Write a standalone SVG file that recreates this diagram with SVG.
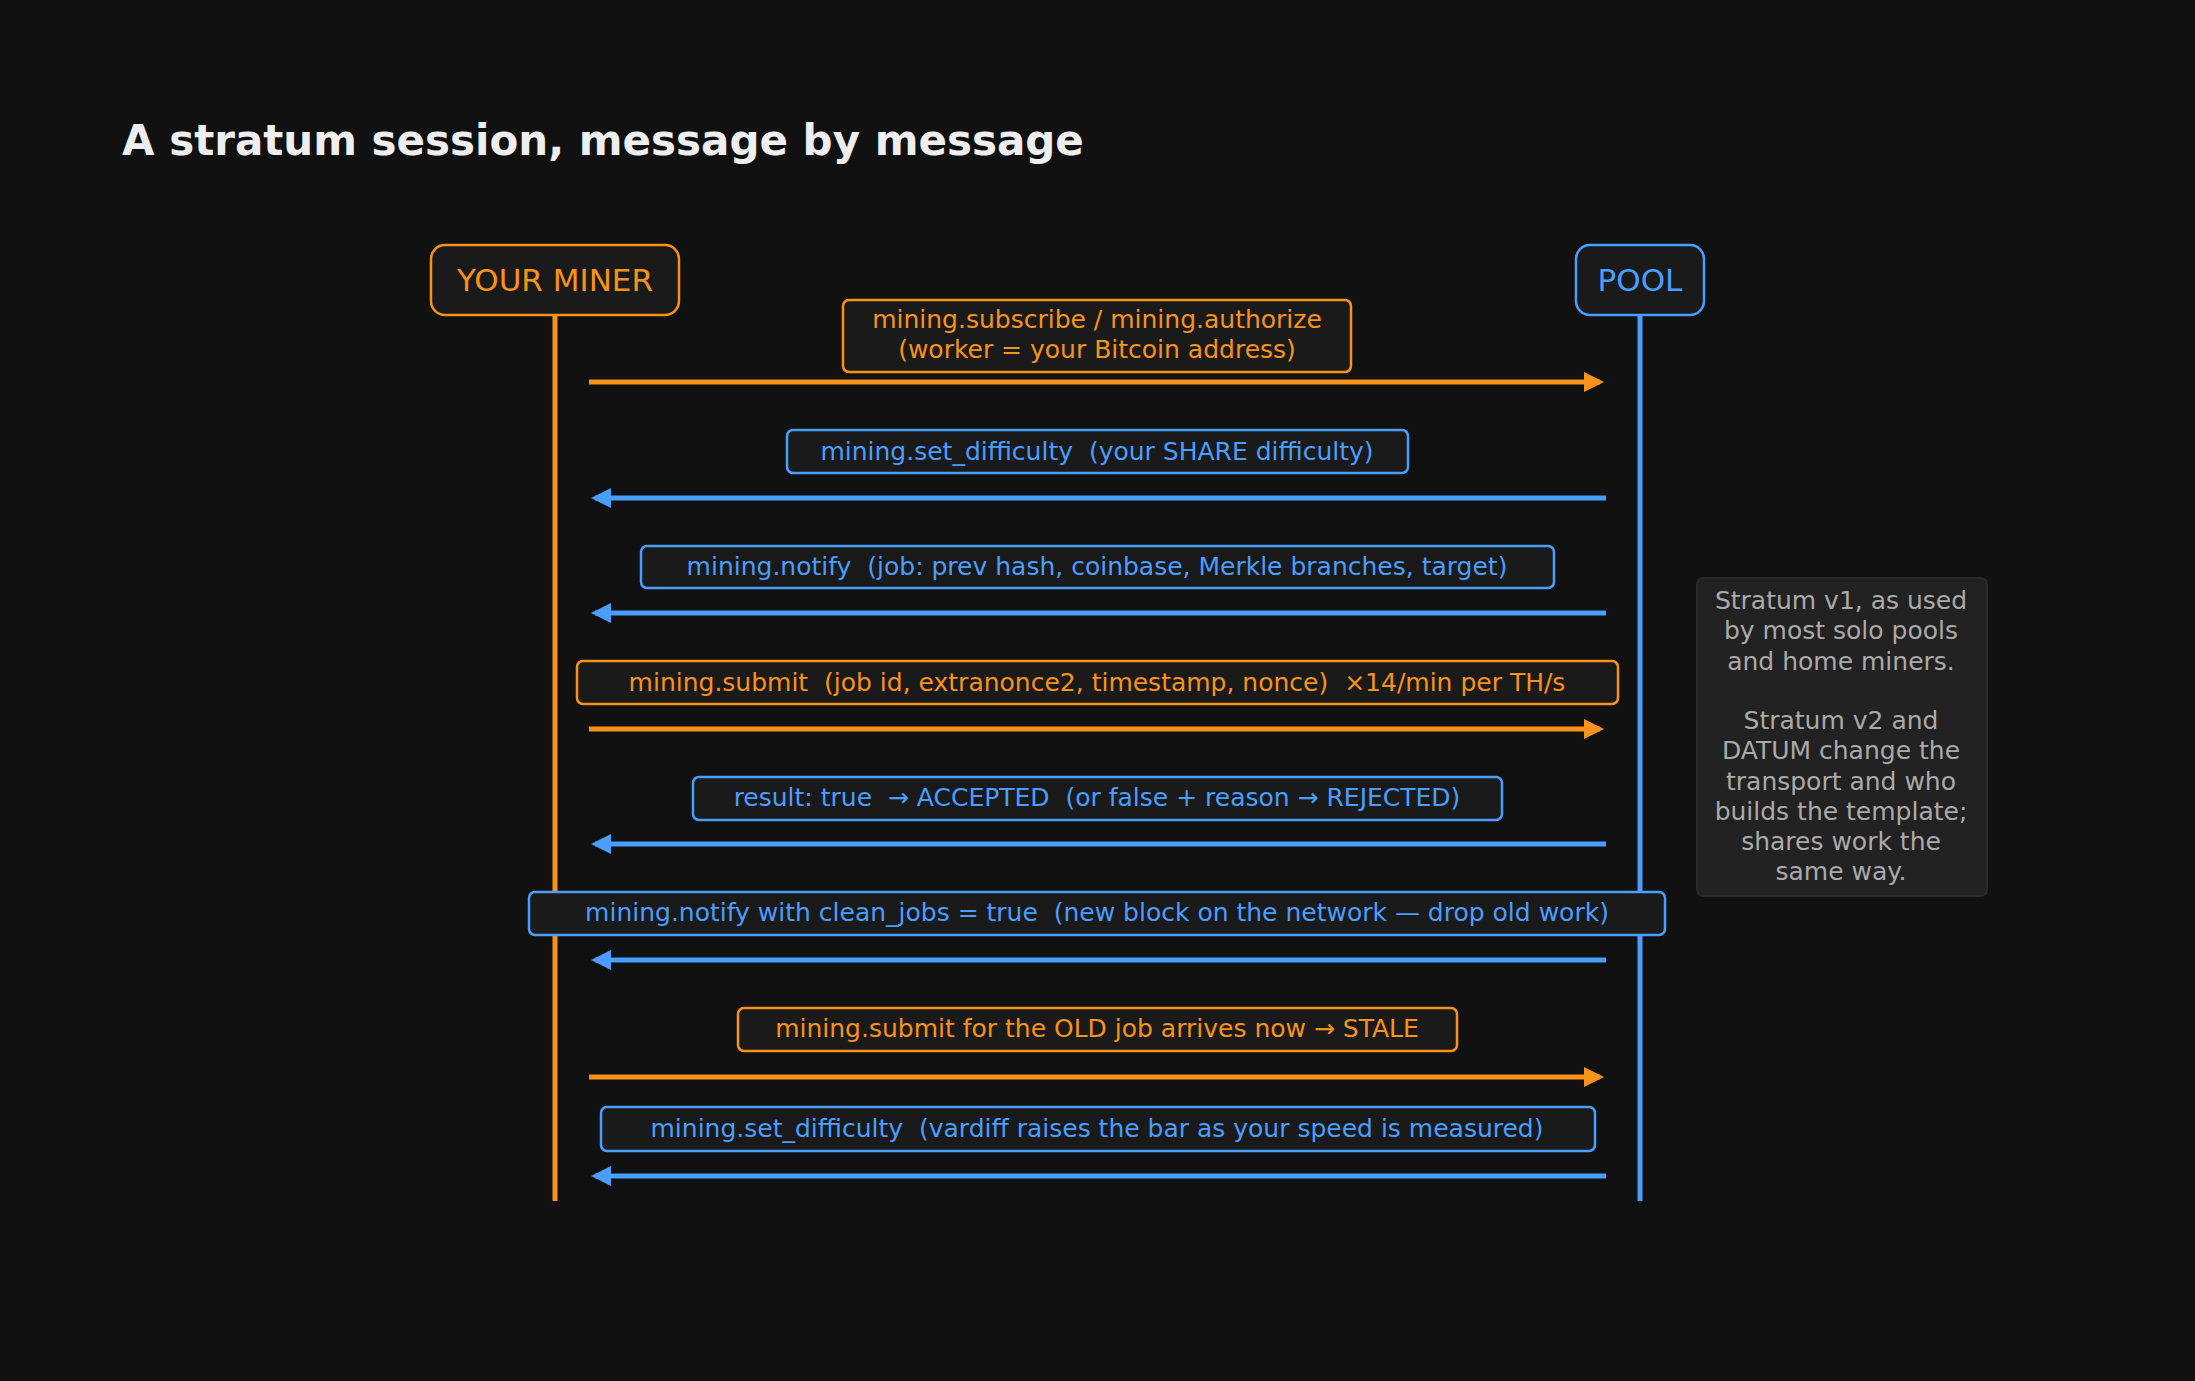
<svg xmlns="http://www.w3.org/2000/svg" width="2195" height="1381" viewBox="0 0 2195 1381">
<style>
text{font-family:"DejaVu Sans","Liberation Sans",sans-serif}
.o{stroke:#f7931a}.b{stroke:#4a9eff}
.ot{fill:#f7931a}.bt{fill:#4a9eff}
.lbl{font-size:25px;text-anchor:middle;dominant-baseline:central}
.box{fill:#1a1a1a;stroke-width:2.5}
.ln{stroke-width:5;fill:none}
</style>
<defs>
<marker id="ao" viewBox="0 0 10 10" refX="8" refY="5" markerWidth="4" markerHeight="4" orient="auto"><path d="M0,0L10,5L0,10z" fill="#f7931a"/></marker>
<marker id="ab" viewBox="0 0 10 10" refX="8" refY="5" markerWidth="4" markerHeight="4" orient="auto"><path d="M0,0L10,5L0,10z" fill="#4a9eff"/></marker>
</defs>
<rect width="2195" height="1381" fill="#111"/>
<text x="122" y="155" font-size="42" font-weight="bold" fill="#eee">A stratum session, message by message</text>
<g id="miner"><rect x="431" y="245" width="248" height="70" rx="14" class="box o" stroke-width="3"/><text x="555" y="280" class="lbl ot" font-size="31" style="font-size:31px">YOUR MINER</text></g>
<g id="pool"><rect x="1576" y="245" width="128" height="70" rx="14" class="box b" stroke-width="3"/><text x="1640" y="280" class="lbl bt" style="font-size:31px">POOL</text></g>
<g id="connectors">
<line x1="555" y1="315" x2="555" y2="1201" class="ln o" stroke-width="5"/>
<line x1="1640" y1="315" x2="1640" y2="1201" class="ln b"/>
<line x1="589" y1="382" x2="1600" y2="382" class="ln o" marker-end="url(#ao)"/>
<line x1="1606" y1="498" x2="595" y2="498" class="ln b" marker-end="url(#ab)"/>
<line x1="1606" y1="613" x2="595" y2="613" class="ln b" marker-end="url(#ab)"/>
<line x1="589" y1="729" x2="1600" y2="729" class="ln o" marker-end="url(#ao)"/>
<line x1="1606" y1="844" x2="595" y2="844" class="ln b" marker-end="url(#ab)"/>
<line x1="1606" y1="960" x2="595" y2="960" class="ln b" marker-end="url(#ab)"/>
<line x1="589" y1="1077" x2="1600" y2="1077" class="ln o" marker-end="url(#ao)"/>
<line x1="1606" y1="1176" x2="595" y2="1176" class="ln b" marker-end="url(#ab)"/>
</g>
<g id="m1"><rect x="843" y="300" width="508" height="72" rx="6" class="box o"/><text x="1097" y="319" class="lbl ot">mining.subscribe / mining.authorize</text><text x="1097" y="349" class="lbl ot">(worker = your Bitcoin address)</text></g>
<g id="m2"><rect x="787" y="430" width="621" height="43" rx="6" class="box b"/><text x="1097" y="451" class="lbl bt" xml:space="preserve">mining.set_difficulty  (your SHARE difficulty)</text></g>
<g id="m3"><rect x="641" y="546" width="913" height="42" rx="6" class="box b"/><text x="1097" y="566" class="lbl bt" xml:space="preserve">mining.notify  (job: prev hash, coinbase, Merkle branches, target)</text></g>
<g id="m4"><rect x="577" y="661" width="1041" height="43" rx="6" class="box o"/><text x="1097" y="682" class="lbl ot" xml:space="preserve">mining.submit  (job id, extranonce2, timestamp, nonce)  ×14/min per TH/s</text></g>
<g id="m5"><rect x="693" y="777" width="809" height="43" rx="6" class="box b"/><text x="1097" y="797" class="lbl bt" xml:space="preserve">result: true  → ACCEPTED  (or false + reason → REJECTED)</text></g>
<g id="m6"><rect x="529" y="892" width="1136" height="43" rx="6" class="box b"/><text x="1097" y="912" class="lbl bt" xml:space="preserve">mining.notify with clean_jobs = true  (new block on the network — drop old work)</text></g>
<g id="m7"><rect x="738" y="1008" width="719" height="43" rx="6" class="box o"/><text x="1097" y="1028" class="lbl ot">mining.submit for the OLD job arrives now → STALE</text></g>
<g id="m8"><rect x="601" y="1107" width="994" height="44" rx="6" class="box b"/><text x="1097" y="1128" class="lbl bt" xml:space="preserve">mining.set_difficulty  (vardiff raises the bar as your speed is measured)</text></g>
<g id="note"><rect x="1697" y="578" width="290" height="318" rx="6" fill="#222" stroke="#2a2a2a" stroke-width="2"/>
<g class="lbl" fill="#aaa">
<text x="1841" y="600" class="lbl" fill="#aaa">Stratum v1, as used</text>
<text x="1841" y="630" class="lbl" fill="#aaa">by most solo pools</text>
<text x="1841" y="661" class="lbl" fill="#aaa">and home miners.</text>
<text x="1841" y="720" class="lbl" fill="#aaa">Stratum v2 and</text>
<text x="1841" y="750" class="lbl" fill="#aaa">DATUM change the</text>
<text x="1841" y="781" class="lbl" fill="#aaa">transport and who</text>
<text x="1841" y="811" class="lbl" fill="#aaa">builds the template;</text>
<text x="1841" y="841" class="lbl" fill="#aaa">shares work the</text>
<text x="1841" y="871" class="lbl" fill="#aaa">same way.</text>
</g></g>
</svg>
